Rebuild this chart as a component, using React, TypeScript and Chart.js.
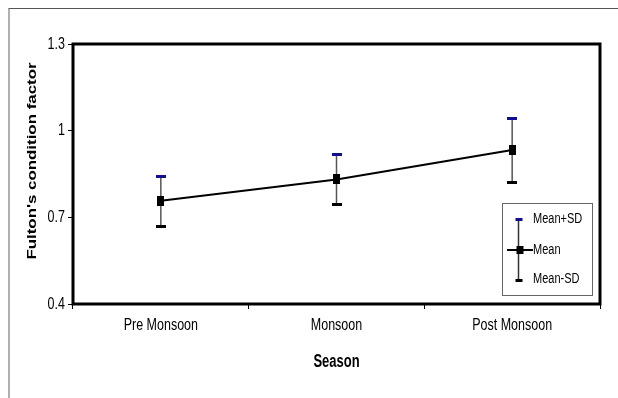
import React, { useEffect, useRef } from "react";
import { Chart, registerables } from "chart.js";

Chart.register(...registerables);

const categories = ["Pre Monsoon", "Monsoon", "Post Monsoon"];
const meanValues = [0.757, 0.831, 0.933];
const plusSdValues = [0.84, 0.917, 1.041];
const minusSdValues = [0.669, 0.746, 0.822];
const yTickValues = [0.4, 0.7, 1, 1.3];
const yTickLabels = ["0.4", "0.7", "1", "1.3"];
const legendLabels = ["Mean+SD", "Mean", "Mean-SD"];
const yAxisTitle = "Fulton's condition factor";
const xAxisTitle = "Season";

const SANS = "'Liberation Sans', Arial, sans-serif";
const STRETCH = 1.35;
const NAVY = "#10108a";

function makeMarker(w: number, h: number, color: string) {
  const c = document.createElement("canvas");
  c.width = w;
  c.height = h;
  const g = c.getContext("2d")!;
  g.fillStyle = color;
  g.fillRect(0, 0, w, h);
  return c;
}

function stretchedText(
  ctx: CanvasRenderingContext2D,
  text: string,
  x: number,
  y: number,
  font: string,
  sx: number,
  sy: number,
  rot: number,
  align: CanvasTextAlign
) {
  ctx.save();
  ctx.translate(x, y);
  if (rot) ctx.rotate(rot);
  ctx.scale(sx, sy);
  ctx.font = font;
  ctx.textAlign = align;
  ctx.textBaseline = "middle";
  ctx.fillStyle = "#000";
  ctx.fillText(text, 0, 0);
  ctx.restore();
}

const decorPlugin = {
  id: "decor",
  beforeDraw(chart: any) {
    // stretch the axis tick labels vertically, like the reference image
    const ctx = chart.ctx as any;
    if (!ctx.__origFillText) {
      ctx.__origFillText = ctx.fillText;
    }
    const orig = ctx.__origFillText;
    ctx.fillText = function (text: string, x: number, y: number, maxW?: number) {
      this.save();
      this.translate(x, y);
      this.scale(1, STRETCH);
      if (maxW === undefined) orig.call(this, text, 0, 0);
      else orig.call(this, text, 0, 0, maxW);
      this.restore();
    };
  },
  beforeDatasetsDraw(chart: any) {
    const { ctx, chartArea: a, scales } = chart;
    if ((ctx as any).__origFillText) ctx.fillText = (ctx as any).__origFillText;
    const x = scales.x;
    const y = scales.y;
    ctx.save();
    ctx.strokeStyle = "#000";
    ctx.lineWidth = 3;
    ctx.strokeRect(a.left, a.top, a.right - a.left, a.bottom - a.top);
    ctx.strokeStyle = "#555";
    ctx.lineWidth = 1.5;
    categories.forEach((_c, i) => {
      const px = x.getPixelForValue(i);
      ctx.beginPath();
      ctx.moveTo(px, y.getPixelForValue(plusSdValues[i]));
      ctx.lineTo(px, y.getPixelForValue(minusSdValues[i]));
      ctx.stroke();
    });
    ctx.restore();
  },
  afterDraw(chart: any) {
    const { ctx, chartArea: a } = chart;
    stretchedText(
      ctx,
      yAxisTitle,
      a.left - 40,
      (a.top + a.bottom) / 2 - 13,
      `bold 12.5px ${SANS}`,
      STRETCH,
      1,
      -Math.PI / 2,
      "center"
    );
    stretchedText(
      ctx,
      xAxisTitle,
      (a.left + a.right) / 2,
      a.bottom + 58.5,
      `bold 13px ${SANS}`,
      1,
      STRETCH,
      0,
      "center"
    );
    const boxRight = a.right - 8;
    const boxLeft = boxRight - 90;
    const boxBottom = a.bottom - 9;
    const boxTop = boxBottom - 92;
    ctx.save();
    ctx.fillStyle = "#fff";
    ctx.fillRect(boxLeft, boxTop, 90, 92);
    ctx.strokeStyle = "#666";
    ctx.lineWidth = 1;
    ctx.strokeRect(boxLeft + 0.5, boxTop + 0.5, 90, 92);
    const sx = boxLeft + 16.5;
    ctx.strokeStyle = "#333";
    ctx.lineWidth = 1.5;
    ctx.beginPath();
    ctx.moveTo(sx, boxTop + 16);
    ctx.lineTo(sx, boxTop + 77);
    ctx.stroke();
    ctx.strokeStyle = "#000";
    ctx.lineWidth = 2;
    ctx.beginPath();
    ctx.moveTo(boxLeft + 5, boxTop + 47);
    ctx.lineTo(boxLeft + 31, boxTop + 47);
    ctx.stroke();
    ctx.fillStyle = NAVY;
    ctx.fillRect(sx - 3, boxTop + 15, 7, 3);
    ctx.fillStyle = "#000";
    ctx.fillRect(sx - 3, boxTop + 76, 7, 3);
    ctx.fillRect(sx - 2, boxTop + 43, 7, 8);
    ctx.restore();
    const ys = [16, 47, 76];
    legendLabels.forEach((t, i) => {
      stretchedText(ctx, t, boxLeft + 31, boxTop + ys[i], `11px ${SANS}`, 1, STRETCH, 0, "left");
    });
  },
};

export default function App() {
  const ref = useRef<HTMLCanvasElement | null>(null);
  useEffect(() => {
    if (!ref.current) return;
    const meanMarker = makeMarker(7, 10, "#000");
    const plusMarker = makeMarker(10, 3, NAVY);
    const minusMarker = makeMarker(10, 3, "#000");
    const tickFont = { family: SANS, size: 12.5 };
    const chart = new Chart(ref.current, {
      type: "line",
      data: {
        labels: categories,
        datasets: [
          {
            label: "Mean",
            data: meanValues,
            borderColor: "#000",
            backgroundColor: "#000",
            borderWidth: 2,
            pointStyle: meanMarker as any,
            pointRadius: 5,
          },
          {
            label: "Mean+SD",
            data: plusSdValues,
            showLine: false,
            pointStyle: plusMarker as any,
            pointRadius: 5,
          },
          {
            label: "Mean-SD",
            data: minusSdValues,
            showLine: false,
            pointStyle: minusMarker as any,
            pointRadius: 5,
          },
        ],
      },
      options: {
        animation: false,
        responsive: false,
        events: [],
        layout: { padding: { top: 35, right: 18, left: 0, bottom: 0 } },
        plugins: { legend: { display: false }, tooltip: { enabled: false } },
        scales: {
          x: {
            type: "category",
            offset: true,
            grid: { offset: true, drawOnChartArea: false, drawTicks: true, tickLength: 5, color: "#000" },
            border: { display: false },
            ticks: { padding: 9, font: tickFont, color: "#000" },
            afterFit(s: any) {
              s.height = 94;
            },
          },
          y: {
            min: 0.4,
            max: 1.3,
            afterBuildTicks(s: any) {
              s.ticks = yTickValues.map((v) => ({ value: v }));
            },
            grid: { drawOnChartArea: false, drawTicks: true, tickLength: 5, color: "#000" },
            border: { display: false },
            ticks: {
              padding: 3,
              font: tickFont,
              color: "#000",
              callback: (v: any) => {
                const i = yTickValues.findIndex((t) => Math.abs(t - Number(v)) < 1e-6);
                return i >= 0 ? yTickLabels[i] : "";
              },
            },
            afterFit(s: any) {
              s.width = 63;
            },
          },
        },
      } as any,
      plugins: [decorPlugin],
    });
    return () => chart.destroy();
  }, []);
  return (
    <div
      style={{
        position: "fixed",
        left: 8,
        top: 8,
        width: 610,
        height: 390,
        borderTop: "1px solid #555",
        borderLeft: "2px solid #b0b0b0",
        boxSizing: "border-box",
        background: "#fff",
      }}
    >
      <canvas ref={ref} width={608} height={389} style={{ display: "block" }} />
    </div>
  );
}
